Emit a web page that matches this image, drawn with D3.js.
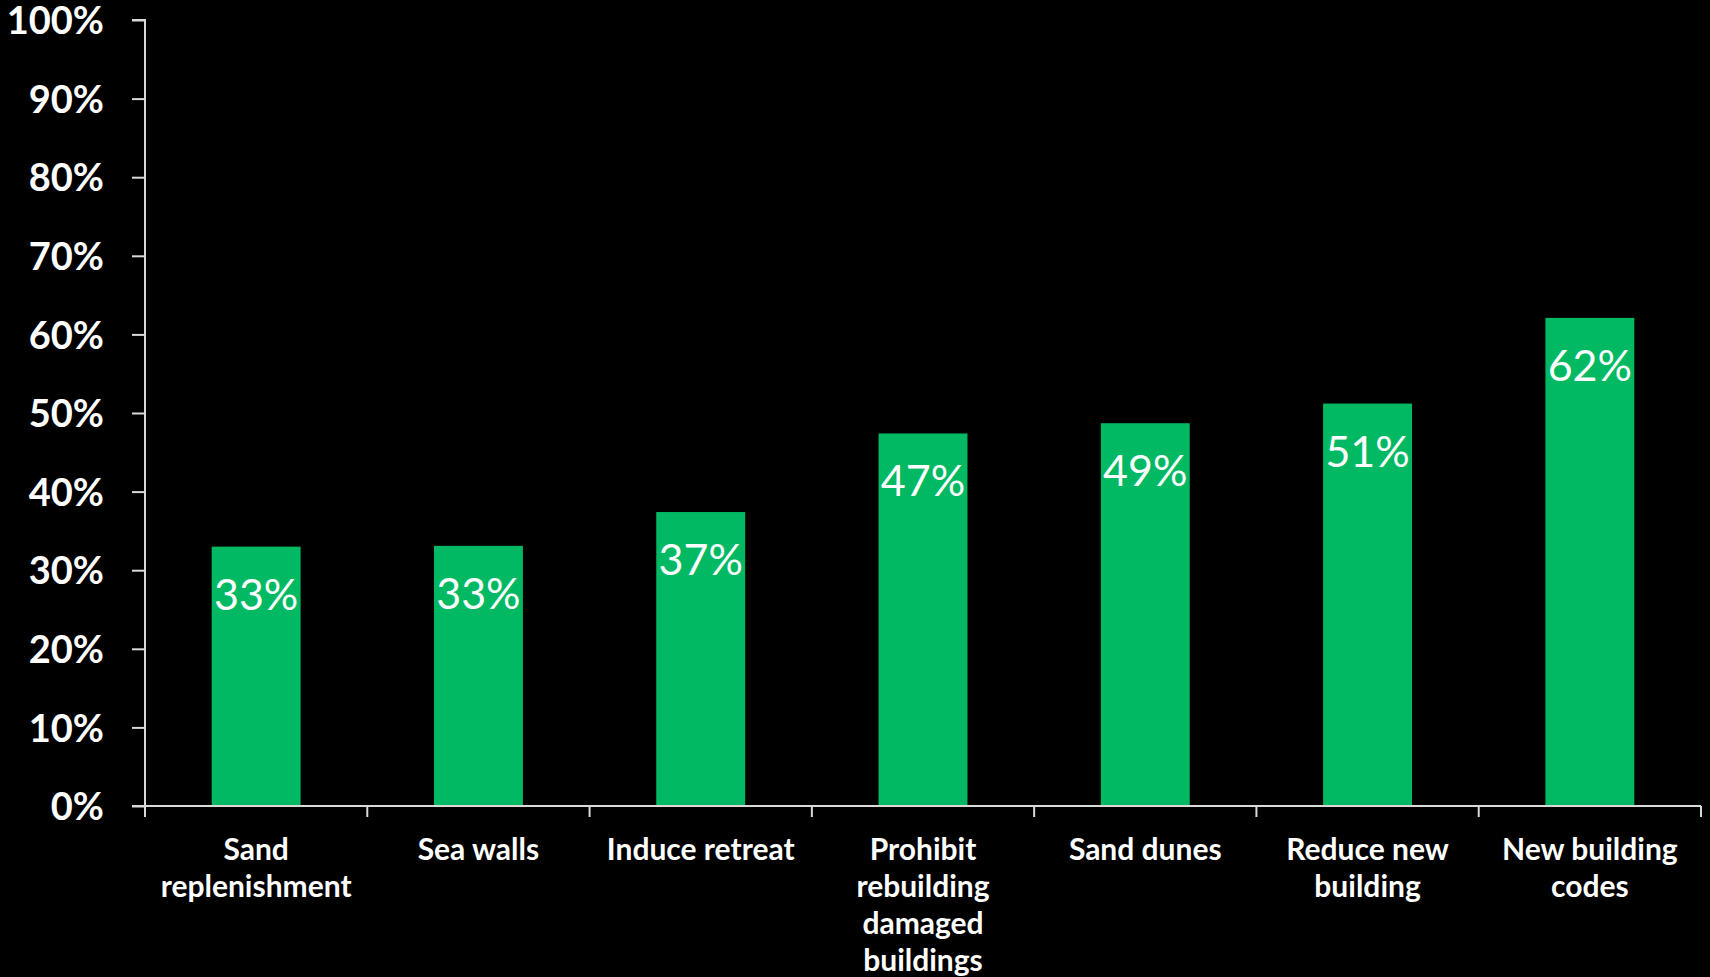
<!DOCTYPE html>
<html><head><meta charset="utf-8">
<script src="https://cdn.jsdelivr.net/npm/d3@7"></script>
<style>html,body{margin:0;padding:0;background:#000;overflow:hidden}svg{display:block}</style>
</head><body>
<svg id="chart" width="1710" height="977"></svg>
<script>
const categories = [
  ["Sand", "replenishment"],
  ["Sea walls"],
  ["Induce retreat"],
  ["Prohibit", "rebuilding", "damaged", "buildings"],
  ["Sand dunes"],
  ["Reduce new", "building"],
  ["New building", "codes"]
];
const values = [33.0, 33.1, 37.4, 47.4, 48.7, 51.2, 62.1];
const valueLabels = ["33%", "33%", "37%", "47%", "49%", "51%", "62%"];
const yTicks = [0, 10, 20, 30, 40, 50, 60, 70, 80, 90, 100];

(function () {
const svg = d3.select("#chart");
const mLeft = 145, mRight = 1701, mTop = 20, mBottom = 806;
const ids = categories.map((c, i) => i);
const x = d3.scaleBand().domain(ids).range([mLeft, mRight]).paddingInner(0.6).paddingOuter(0.3);
const y = d3.scaleLinear().domain([0, 100]).range([mBottom, mTop]);
const axisColor = "#d9d9d9";

// bars
svg.append("g").selectAll("rect").data(values).join("rect")
  .attr("x", (d, i) => x(i))
  .attr("y", d => y(d))
  .attr("width", x.bandwidth())
  .attr("height", d => y(0) - y(d))
  .attr("fill", "#00B962");

// value labels
svg.append("g").selectAll("text").data(values).join("text")
  .attr("x", (d, i) => x(i) + x.bandwidth() / 2)
  .attr("y", d => y(d) + 63)
  .attr("text-anchor", "middle")
  .attr("fill", "#fff")
  .style("font", "400 43px Lato, 'Open Sans', sans-serif")
  .text((d, i) => valueLabels[i]);

// y axis
const yAxis = d3.axisLeft(y).tickValues(yTicks).tickFormat(d => d + "%").tickSize(13).tickPadding(28);
const gy = svg.append("g").attr("transform", `translate(${mLeft},0)`).call(yAxis);
gy.select(".domain").attr("stroke", axisColor).attr("stroke-width", 2).attr("d", `M-13,${mTop}H0V${mBottom}`);
gy.selectAll(".tick line").attr("stroke", axisColor).attr("stroke-width", 2);
gy.selectAll(".tick text").attr("fill", "#fff").attr("dy", "0.36em")
  .style("font", "700 38px Lato, 'Open Sans', sans-serif");

// x axis
const xEdge = d3.scaleLinear().domain([0, categories.length]).range([mLeft, mRight]);
const gx = svg.append("g").attr("transform", `translate(0,${mBottom})`);
gx.append("line").attr("x1", mLeft - 13).attr("x2", mRight).attr("y1", 0).attr("y2", 0)
  .attr("stroke", axisColor).attr("stroke-width", 2);
gx.selectAll("line.tk").data(d3.range(categories.length + 1)).join("line").attr("class", "tk")
  .attr("x1", d => xEdge(d)).attr("x2", d => xEdge(d)).attr("y1", 0).attr("y2", 11)
  .attr("stroke", axisColor).attr("stroke-width", 2);
gx.selectAll("text.cat").data(categories).join("text").attr("class", "cat")
  .attr("x", (d, i) => x(i) + x.bandwidth() / 2)
  .attr("y", 54)
  .attr("text-anchor", "middle")
  .attr("fill", "#fff")
  .style("font", "700 30px Lato, 'Open Sans', sans-serif")
  .each(function(lines) {
    const t = d3.select(this);
    lines.forEach((ln, j) => {
      t.append("tspan").attr("x", t.attr("x")).attr("dy", j === 0 ? 0 : 37).text(ln);
    });
  });
})();
</script>
</body></html>
